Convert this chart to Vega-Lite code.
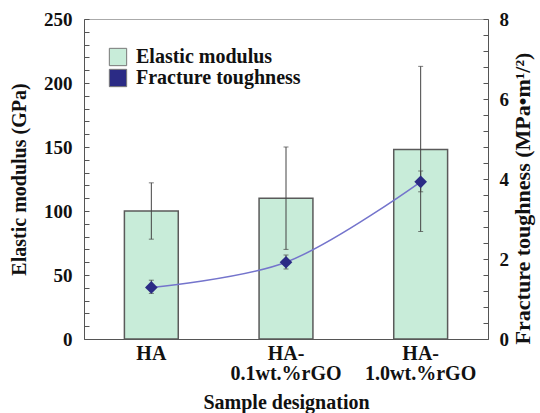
{
  "$schema": "https://vega.github.io/schema/vega-lite/v6.json",
  "autosize": {"type": "none"},
  "width": 404,
  "height": 320,
  "padding": {"left": 84, "top": 19, "right": 52, "bottom": 74},
  "background": "white",
  "config": {
    "view": {"stroke": "#aaa", "strokeWidth": 1},
    "font": "Liberation Serif",
    "axis": {"labelFont": "Liberation Serif", "titleFont": "Liberation Serif", "labelFontWeight": "bold", "titleFontWeight": "bold", "labelColor": "#111", "titleColor": "#111", "domainColor": "#555", "tickColor": "#555", "grid": false, "labelOverlap": false},
    "legend": {"labelFont": "Liberation Serif", "labelFontWeight": "bold", "labelColor": "#111", "labelLimit": 400}
  },
  "data": {"values": [
    {"sample": "HA", "E": 100, "Elo": 78, "Ehi": 122, "K": 1.29, "Klo": 1.14, "Khi": 1.47},
    {"sample": "HA-0.1wt.%rGO", "E": 110, "Elo": 70, "Ehi": 150, "K": 1.92, "Klo": 1.75, "Khi": 2.1},
    {"sample": "HA-1.0wt.%rGO", "E": 148, "Elo": 84, "Ehi": 213, "K": 3.93, "Klo": 3.68, "Khi": 4.2}
  ]},
  "layer": [
    {
      "layer": [
        {
          "mark": {"type": "bar", "stroke": "#5a5a5a", "strokeWidth": 1.5},
          "encoding": {
            "x": {"field": "sample", "type": "nominal", "sort": null,
              "scale": {"paddingInner": 0.6, "paddingOuter": 0.3},
              "axis": {"title": "Sample designation", "titleFontSize": 20, "titlePadding": 9, "labelFontSize": 20, "labelAngle": 0, "labelPadding": 4, "labelLineHeight": 20, "ticks": false,
                "labelExpr": "datum.value == 'HA' ? 'HA' : ['HA-', slice(datum.value, 3)]"}},
            "y": {"field": "E", "type": "quantitative", "scale": {"domain": [0, 250], "nice": false},
              "axis": {"title": "Elastic modulus (GPa)", "titleFontSize": 20, "titlePadding": 14, "labelFontSize": 19, "tickCount": 100,
                "values": [0,10,20,30,40,50,60,70,80,90,100,110,120,130,140,150,160,170,180,190,200,210,220,230,240,250],
                "labelExpr": "datum.value % 50 == 0 ? datum.label : ''", "tickSize": -5, "labelPadding": 17}},
            "fill": {"datum": "Elastic modulus", "type": "nominal",
              "scale": {"domain": ["Elastic modulus", "Fracture toughness"], "range": ["#c8ecd9", "#2b2b85"]},
              "legend": {"orient": "none", "legendX": 24, "legendY": 28, "title": null, "labelFontSize": 20, "symbolSize": 300, "rowPadding": -3, "labelOffset": 8, "symbolStrokeColor": "#777", "symbolStrokeWidth": 1}}
          }
        },
        {
          "mark": {"type": "rule", "color": "#444", "strokeWidth": 1},
          "encoding": {
            "x": {"field": "sample", "type": "nominal", "sort": null},
            "y": {"field": "Elo", "type": "quantitative", "title": "Elastic modulus (GPa)"},
            "y2": {"field": "Ehi"}
          }
        },
        {
          "mark": {"type": "tick", "color": "#444", "size": 5, "thickness": 1},
          "encoding": {
            "x": {"field": "sample", "type": "nominal", "sort": null},
            "y": {"field": "Elo", "type": "quantitative", "title": "Elastic modulus (GPa)"}
          }
        },
        {
          "mark": {"type": "tick", "color": "#444", "size": 5, "thickness": 1},
          "encoding": {
            "x": {"field": "sample", "type": "nominal", "sort": null},
            "y": {"field": "Ehi", "type": "quantitative", "title": "Elastic modulus (GPa)"}
          }
        }
      ]
    },
    {
      "layer": [
        {
          "mark": {"type": "line", "color": "#7474cc", "strokeWidth": 1.5, "interpolate": "catmull-rom"},
          "encoding": {
            "x": {"field": "sample", "type": "nominal", "sort": null},
            "y": {"field": "K", "type": "quantitative", "scale": {"domain": [0, 8], "nice": false},
              "axis": {"title": "Fracture toughness (MPa•m¹/²)", "titleFontSize": 22, "titleAngle": 270, "titleBaseline": "top", "titleY": 179, "titlePadding": 4, "labelFontSize": 19, "tickCount": 100,
                "values": [0,0.4,0.8,1.2,1.6,2,2.4,2.8,3.2,3.6,4,4.4,4.8,5.2,5.6,6,6.4,6.8,7.2,7.6,8],
                "labelExpr": "abs(datum.value - round(datum.value/2)*2) < 0.01 ? format(round(datum.value), 'd') : ''",
                "tickSize": -5, "labelPadding": 16}}
          }
        },
        {
          "mark": {"type": "rule", "color": "#444", "strokeWidth": 1},
          "encoding": {
            "x": {"field": "sample", "type": "nominal", "sort": null},
            "y": {"field": "Klo", "type": "quantitative", "title": "Fracture toughness (MPa•m¹/²)"},
            "y2": {"field": "Khi"}
          }
        },
        {
          "mark": {"type": "tick", "color": "#444", "size": 5, "thickness": 1},
          "encoding": {
            "x": {"field": "sample", "type": "nominal", "sort": null},
            "y": {"field": "Klo", "type": "quantitative", "title": "Fracture toughness (MPa•m¹/²)"}
          }
        },
        {
          "mark": {"type": "tick", "color": "#444", "size": 5, "thickness": 1},
          "encoding": {
            "x": {"field": "sample", "type": "nominal", "sort": null},
            "y": {"field": "Khi", "type": "quantitative", "title": "Fracture toughness (MPa•m¹/²)"}
          }
        },
        {
          "mark": {"type": "point", "shape": "diamond", "filled": true, "size": 160, "opacity": 1},
          "encoding": {
            "x": {"field": "sample", "type": "nominal", "sort": null},
            "y": {"field": "K", "type": "quantitative", "title": "Fracture toughness (MPa•m¹/²)"},
            "fill": {"datum": "Fracture toughness", "type": "nominal"}
          }
        }
      ]
    }
  ],
  "resolve": {"scale": {"y": "independent"}}
}
